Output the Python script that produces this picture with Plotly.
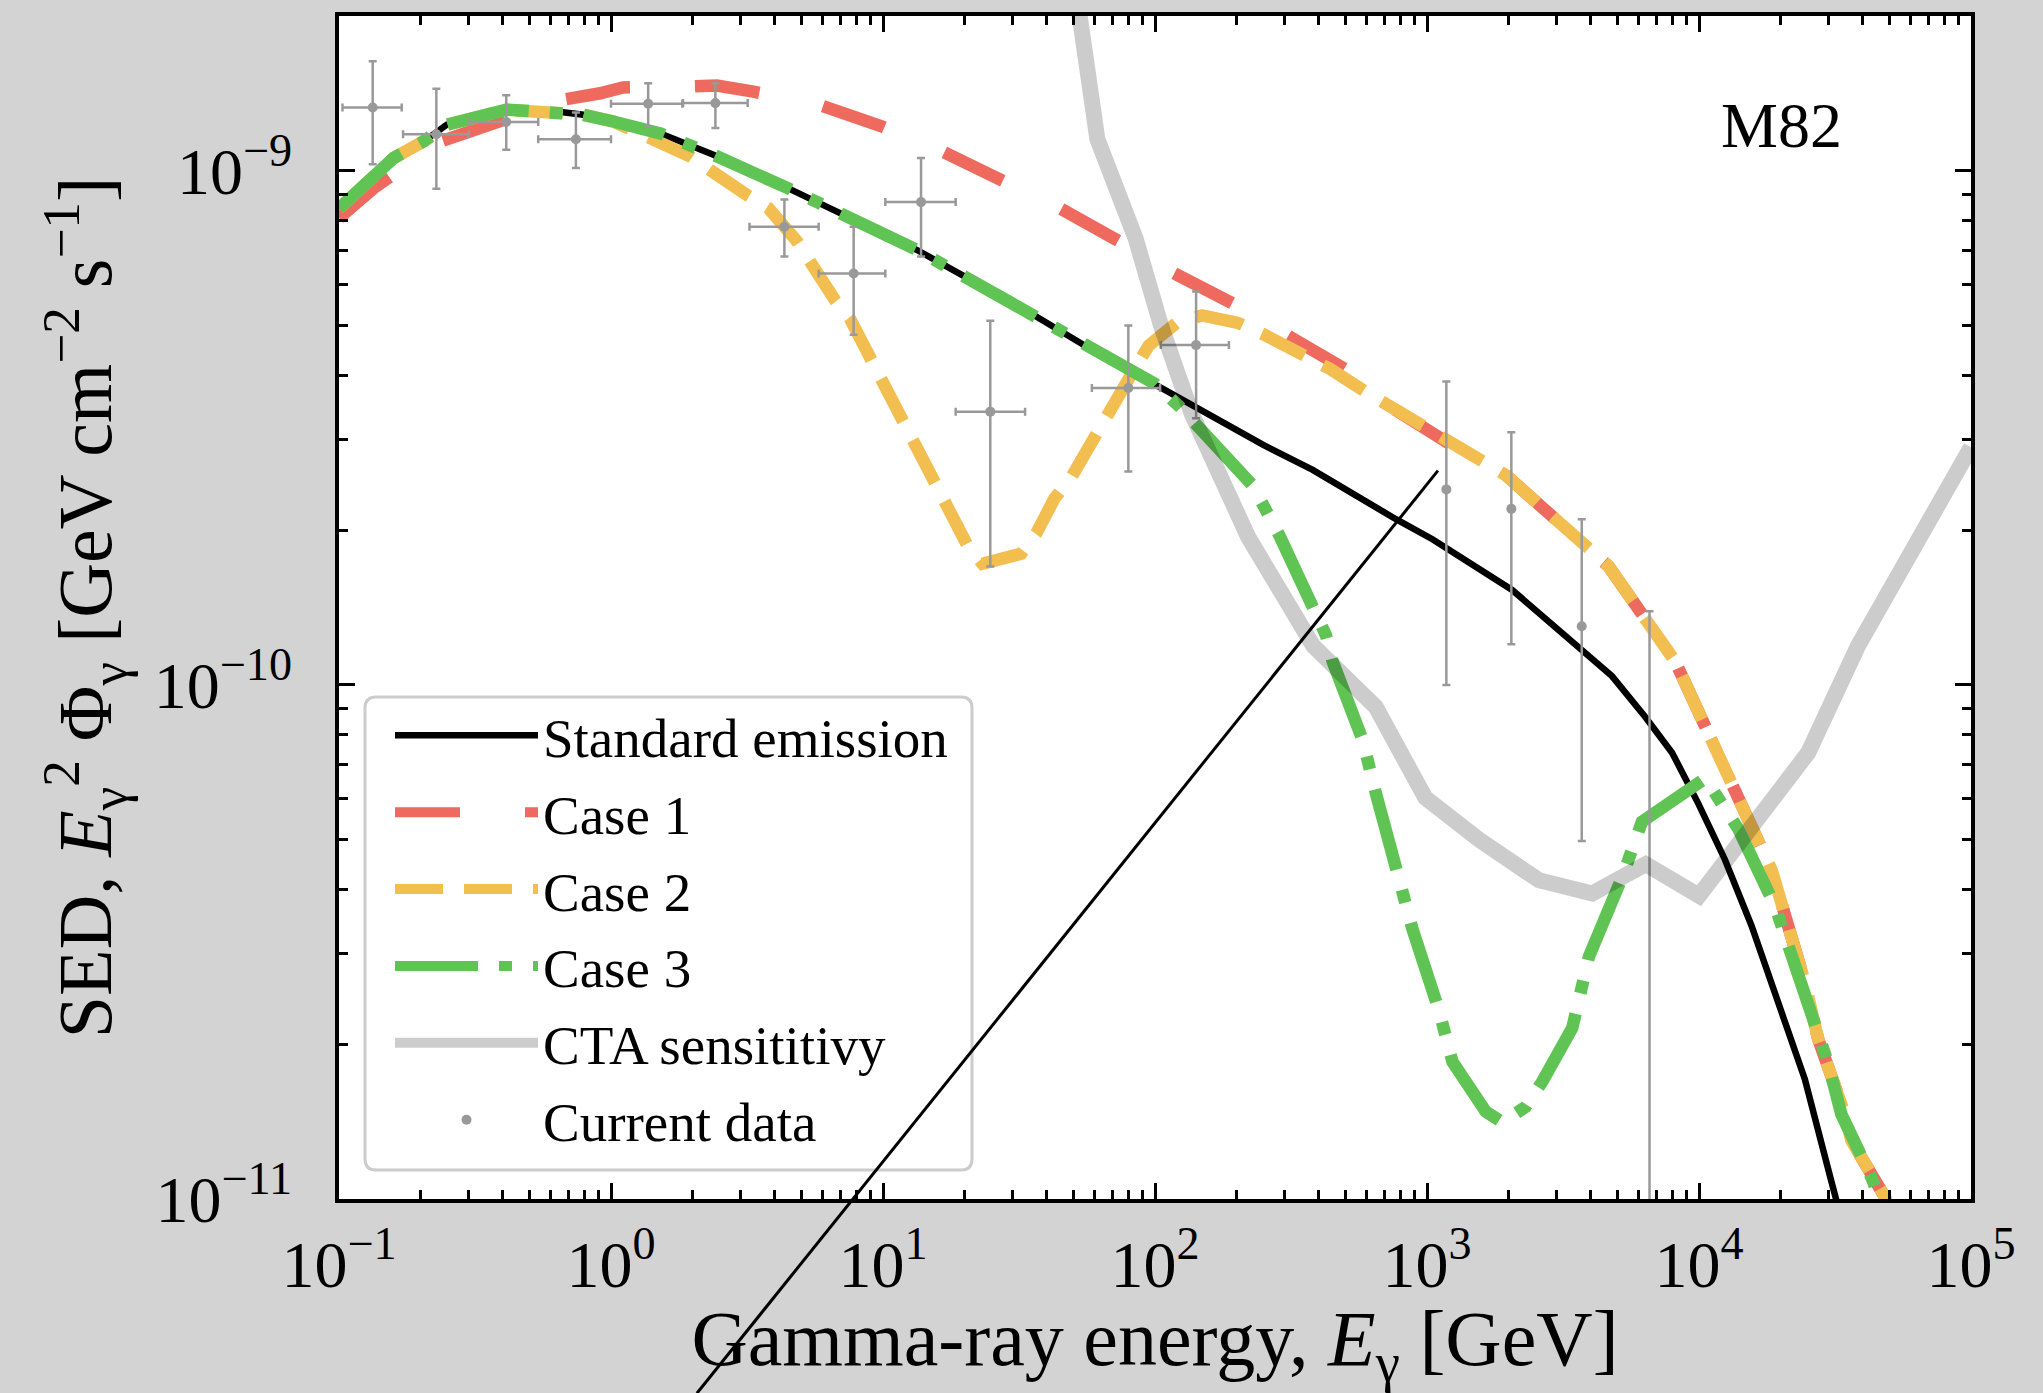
import math
import plotly.graph_objects as go

# ---------------- data ----------------
# Standard emission
E_std = [0.1, 0.159, 0.205, 0.249, 0.414, 0.632, 0.792, 1.02, 1.53, 2.38, 4.51, 13.3, 35.8,
         68.4, 105.4, 250, 380, 769, 1047, 2056, 3228, 4787, 6347, 7962, 9954, 12460,
         15600, 19600, 24500, 30700, 34000]
S_std = [8.45e-10, 1.059e-9, 1.141e-9, 1.229e-9, 1.315e-9, 1.304e-9, 1.285e-9, 1.247e-9,
         1.18e-9, 1.074e-9, 9.23e-10, 7.02e-10, 5.24e-10, 4.27e-10, 3.78e-10, 2.93e-10,
         2.62e-10, 2.10e-10, 1.92e-10, 1.53e-10, 1.25e-10, 1.04e-10, 8.66e-11, 7.38e-11,
         5.87e-11, 4.57e-11, 3.40e-11, 2.41e-11, 1.71e-11, 1.08e-11, 8.8e-12]

# Case 1
E_c1 = [0.1, 0.134, 0.236, 0.38, 0.668, 0.912, 1.107, 1.99, 2.45, 3.34, 5.85, 9.82, 16.3,
        27.0, 44.4, 73.2, 117.5, 193, 316, 497, 706, 1552, 1947, 4036, 4653, 8180, 8665,
        13970, 17000, 18500, 24500, 27400, 34400, 36300, 48200, 55000]
S_c1 = [8.09e-10, 9.25e-10, 1.14e-9, 1.247e-9, 1.375e-9, 1.415e-9, 1.452e-9, 1.46e-9,
        1.465e-9, 1.425e-9, 1.343e-9, 1.222e-9, 1.094e-9, 9.61e-10, 8.47e-10, 7.31e-10,
        6.32e-10, 5.52e-10, 4.73e-10, 4.12e-10, 3.52e-10, 2.71e-10, 2.56e-10, 1.82e-10,
        1.70e-10, 1.11e-10, 1.04e-10, 6.0e-11, 4.78e-11, 4.36e-11, 2.64e-11, 2.05e-11,
        1.46e-11, 1.30e-11, 1.01e-11, 8.0e-12]

# Case 2
E_c2 = [0.1, 0.159, 0.205, 0.249, 0.414, 0.632, 0.792, 1.02, 1.517, 1.95, 3.16, 3.79, 4.81,
        5.36, 6.65, 7.57, 9.0, 11.9, 15.4, 20.4, 23.2, 32.2, 36.6, 42.6, 49.6, 61.4, 79.6,
        94.8, 120, 149, 202, 250, 369, 439, 592, 706, 1552, 1947, 4036, 4653, 8180, 8665,
        13970, 17000, 18500, 24500, 27400, 34400, 36300, 48200, 55000]
S_c2 = [8.45e-10, 1.059e-9, 1.141e-9, 1.229e-9, 1.315e-9, 1.304e-9, 1.285e-9, 1.247e-9,
        1.14e-9, 1.067e-9, 8.97e-10, 8.46e-10, 7.31e-10, 6.67e-10, 5.61e-10, 5.15e-10,
        4.30e-10, 3.19e-10, 2.44e-10, 1.87e-10, 1.72e-10, 1.80e-10, 1.97e-10, 2.30e-10,
        2.55e-10, 3.13e-10, 3.92e-10, 4.57e-10, 5.06e-10, 5.23e-10, 5.06e-10, 4.81e-10,
        4.30e-10, 4.12e-10, 3.72e-10, 3.52e-10, 2.71e-10, 2.56e-10, 1.82e-10, 1.70e-10,
        1.11e-10, 1.04e-10, 6.0e-11, 4.78e-11, 4.36e-11, 2.64e-11, 2.05e-11, 1.46e-11,
        1.30e-11, 1.01e-11, 8.0e-12]

# Case 3
E_c3 = [0.1, 0.159, 0.205, 0.249, 0.414, 0.632, 0.792, 1.02, 1.53, 2.38, 4.51, 13.3, 35.8,
        68.4, 100, 123, 229, 287, 380, 425, 450, 580, 649, 789, 883, 1106, 1240, 1643, 1892,
        2302, 2651, 3419, 3938, 5214, 6170, 10550, 12130, 13960, 19000, 21900, 29900, 33400,
        43100, 52000]
S_c3 = [8.45e-10, 1.059e-9, 1.141e-9, 1.229e-9, 1.315e-9, 1.304e-9, 1.285e-9, 1.247e-9,
        1.18e-9, 1.074e-9, 9.23e-10, 7.02e-10, 5.24e-10, 4.27e-10, 3.85e-10, 3.48e-10,
        2.44e-10, 1.95e-10, 1.43e-10, 1.25e-10, 1.11e-10, 7.81e-11, 6.15e-11, 4.27e-11,
        3.36e-11, 2.33e-11, 1.85e-11, 1.48e-11, 1.41e-11, 1.51e-11, 1.69e-11, 2.15e-11,
        2.96e-11, 4.22e-11, 5.42e-11, 6.58e-11, 5.87e-11, 5.24e-11, 3.72e-11, 2.96e-11,
        1.83e-11, 1.46e-11, 1.1e-11, 8.5e-12]

# CTA sensitivity
E_cta = [51.5, 61.4, 84.9, 105.4, 136.7, 220, 382, 648, 986, 1552, 2576, 4050, 6365, 10000,
         25200, 38400, 100000]
S_cta = [2.2e-9, 1.152e-9, 7.38e-10, 4.98e-10, 3.36e-10, 1.94e-10, 1.19e-10, 9.06e-11,
         6.03e-11, 5.0e-11, 4.17e-11, 3.93e-11, 4.48e-11, 3.89e-11, 7.38e-11, 1.19e-10, 2.9e-10]

# Current data
E_dat = [0.133, 0.228, 0.412, 0.743, 1.37, 2.42, 4.34, 7.80, 13.8, 24.8, 79.8, 141.6,
         1178, 2042, 3706, 6578]
E_lo = [0.103, 0.172, 0.301, 0.54, 1.0, 1.84, 3.23, 5.80, 10.2, 18.5, 58.6, 105,
        1178, 2042, 3706, 6578]
E_hi = [0.170, 0.30, 0.54, 1.0, 1.83, 3.18, 5.80, 10.2, 18.5, 33.3, 104.4, 187,
        1178, 2042, 3706, 6578]
S_dat = [1.328e-9, 1.178e-9, 1.244e-9, 1.152e-9, 1.350e-9, 1.354e-9, 7.78e-10, 6.31e-10,
         8.69e-10, 3.40e-10, 3.78e-10, 4.58e-10, 2.40e-10, 2.20e-10, 1.30e-10, 5.0e-12]
S_up = [1.633e-9, 1.444e-9, 1.402e-9, 1.298e-9, 1.480e-9, 1.480e-9, 8.79e-10, 7.78e-10,
        1.059e-9, 5.11e-10, 5.0e-10, 5.82e-10, 3.89e-10, 3.10e-10, 2.10e-10, 1.39e-10]
S_dn = [1.030e-9, 9.23e-10, 1.099e-9, 1.012e-9, 1.220e-9, 1.211e-9, 6.81e-10, 4.80e-10,
        6.81e-10, 1.70e-10, 2.60e-10, 3.30e-10, 1.0e-10, 1.20e-10, 4.97e-11, 1.0e-13]

# axes
X_RANGE = [0.1, 1e5]
Y_RANGE = [1e-11, 2e-9]
X_TICKS = [1e-1, 1e0, 1e1, 1e2, 1e3, 1e4, 1e5]
X_TICKTEXT = ["10<sup>\u22121</sup>", "10<sup>0</sup>", "10<sup>1</sup>", "10<sup>2</sup>",
              "10<sup>3</sup>", "10<sup>4</sup>", "10<sup>5</sup>"]
Y_TICKS = [1e-11, 1e-10, 1e-9]
Y_TICKTEXT = ["10<sup>\u221211</sup>", "10<sup>\u221210</sup>", "10<sup>\u22129</sup>"]
X_MINOR = [m * 10.0 ** d for d in range(-1, 5) for m in range(2, 10)]
Y_MINOR = [m * 10.0 ** d for d in (-11, -10) for m in range(2, 10)] + [2e-9]

# annotation line (endpoints in data units)
GUIDE_E = [2.07, 1097]
GUIDE_S = [4.19e-12, 2.61e-10]

# ---------------- styling ----------------
FONT = "Liberation Serif"
RED = "#EE6A5F"
YELLOW = "#F2BE50"
GREEN = "#60C454"
GRAY = "#999999"

fig = go.Figure()
fig.add_trace(go.Scatter(x=E_std, y=S_std, mode="lines", name="Standard emission",
                         line=dict(color="black", width=6.5), legendrank=1, legendgroup="g1"))
fig.add_trace(go.Scatter(x=E_c1, y=S_c1, mode="lines", name="Case 1",
                         line=dict(color=RED, width=12.5, dash="65px,65px"),
                         legendrank=2, legendgroup="g2"))
fig.add_trace(go.Scatter(x=E_c2, y=S_c2, mode="lines", name="Case 2",
                         line=dict(color=YELLOW, width=12.5, dash="48px,21px"),
                         legendrank=3, legendgroup="g3"))
fig.add_trace(go.Scatter(x=E_c3, y=S_c3, mode="lines", name="Case 3",
                         line=dict(color=GREEN, width=12.5, dash="83px,21px,13px,21px"),
                         legendrank=4, legendgroup="g4"))
fig.add_trace(go.Scatter(
    x=E_dat, y=S_dat, mode="markers", name="Current data",
    marker=dict(color=GRAY, size=10),
    error_y=dict(type="data", symmetric=False,
                 array=[u - s for u, s in zip(S_up, S_dat)],
                 arrayminus=[s - d for s, d in zip(S_dat, S_dn)],
                 color=GRAY, thickness=2.5, width=4),
    error_x=dict(type="data", symmetric=False,
                 array=[h - e for h, e in zip(E_hi, E_dat)],
                 arrayminus=[e - l for e, l in zip(E_dat, E_lo)],
                 color=GRAY, thickness=2.5, width=4),
    legendrank=6, legendgroup="g6"))
fig.add_trace(go.Scatter(x=E_cta, y=S_cta, mode="lines", name="CTA sensititivy",
                         line=dict(color="rgba(0,0,0,0.2)", width=16),
                         legendrank=5, legendgroup="g5"))

xr = [math.log10(v) for v in X_RANGE]
yr = [math.log10(v) for v in Y_RANGE]


def to_paper(e, s):
    return ((math.log10(e) - xr[0]) / (xr[1] - xr[0]),
            (math.log10(s) - yr[0]) / (yr[1] - yr[0]))


axis_common = dict(type="log", showline=True, linecolor="black", linewidth=3.5,
                   mirror="allticks", ticks="inside", ticklen=16, tickwidth=2.5,
                   tickcolor="black", showgrid=False, zeroline=False, automargin=False,
                   tickfont=dict(family=FONT, size=66, color="black"))

fig.update_xaxes(range=xr, tickmode="array", tickvals=X_TICKS, ticktext=X_TICKTEXT,
                 minor=dict(tickmode="array", tickvals=X_MINOR, ticks="inside", ticklen=9,
                            tickwidth=2.5, tickcolor="black", showgrid=False),
                 title=dict(text="Gamma-ray energy, <i>E</i><sub>\u03b3</sub> [GeV]",
                            font=dict(family=FONT, size=78, color="black"), standoff=32),
                 ticklabelstandoff=5, **axis_common)
fig.update_yaxes(range=yr, tickmode="array", tickvals=Y_TICKS, ticktext=Y_TICKTEXT,
                 minor=dict(tickmode="array", tickvals=Y_MINOR, ticks="inside", ticklen=9,
                            tickwidth=2.5, tickcolor="black", showgrid=False),
                 title=dict(text="SED, <i>E</i><sub>\u03b3</sub><sup>2</sup> \u03a6<sub>\u03b3</sub> "
                                 "[GeV cm<sup>\u22122</sup> s<sup>\u22121</sup>]",
                            font=dict(family=FONT, size=76, color="black"), standoff=18),
                 ticklabelstandoff=30, **axis_common)

# legend frame (rounded) drawn in paper coordinates
W, H = 2043, 1393
ML, MR, MT, MB = 339, 72, 16, 194
pw, ph = W - ML - MR, H - MT - MB
bx0, bx1 = (365 - ML) / pw, (972 - ML) / pw
by0, by1 = (H - MB - 1170) / ph, (H - MB - 697) / ph
rx, ry = 11 / pw, 11 / ph
frame_path = (f"M{bx0 + rx},{by0} L{bx1 - rx},{by0} Q{bx1},{by0} {bx1},{by0 + ry} "
              f"L{bx1},{by1 - ry} Q{bx1},{by1} {bx1 - rx},{by1} L{bx0 + rx},{by1} "
              f"Q{bx0},{by1} {bx0},{by1 - ry} L{bx0},{by0 + ry} Q{bx0},{by0} {bx0 + rx},{by0} Z")

g0 = to_paper(GUIDE_E[0], GUIDE_S[0])
g1 = to_paper(GUIDE_E[1], GUIDE_S[1])

fig.update_layout(
    width=W, height=H, template="none",
    margin=dict(l=ML, r=MR, t=MT, b=MB, pad=0),
    paper_bgcolor="#D3D3D3", plot_bgcolor="white",
    font=dict(family=FONT, color="black", size=55),
    showlegend=True,
    legend=dict(x=(390 - ML) / pw, y=(H - MB - 693) / ph, xanchor="left", yanchor="top",
                bgcolor="rgba(0,0,0,0)", borderwidth=0, itemwidth=143,
                font=dict(family=FONT, size=55, color="black"),
                tracegroupgap=2.4, traceorder="grouped"),
    shapes=[
        dict(type="path", xref="paper", yref="paper", path=frame_path, layer="above",
             fillcolor="rgba(255,255,255,0.8)", line=dict(color="#CCCCCC", width=3)),
        dict(type="line", xref="paper", yref="paper", x0=g0[0], y0=g0[1], x1=g1[0], y1=g1[1],
             layer="above", line=dict(color="black", width=3)),
    ],
    annotations=[dict(text="M82", xref="paper", yref="paper", x=(1781 - ML) / pw,
                      y=(H - MB - 126) / ph, xanchor="center", yanchor="middle",
                      showarrow=False, font=dict(family=FONT, size=64, color="black"))],
)

fig.write_html("out.html", config={"displayModeBar": False})
